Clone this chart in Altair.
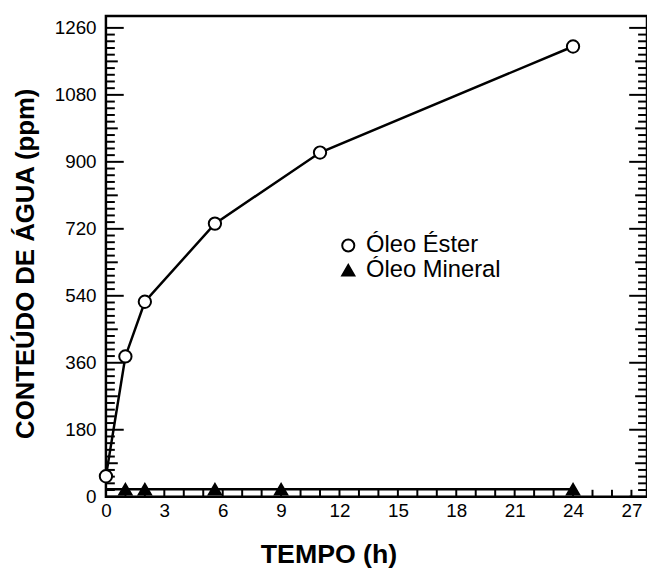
import altair as alt
import pandas as pd

# ---- data ----
tempo_ester = [0, 1, 2, 5.6, 11, 24]
agua_ester = [55, 377, 524, 734, 925, 1210]

tempo_mineral = [0, 1, 2, 5.6, 9, 24]
agua_mineral = [20, 20, 20, 20, 20, 20]
mineral_marker = [False, True, True, True, True, True]

series_names = ["Óleo Éster", "Óleo Mineral"]

x_labels = [0, 3, 6, 9, 12, 15, 18, 21, 24, 27]
y_labels = [0, 180, 360, 540, 720, 900, 1080, 1260]

y_minor = [v for v in range(0, 1261, 18) if v % 90 != 0]
y_medium = [v for v in range(0, 1261, 90) if v % 180 != 0]
y_major = list(range(0, 1261, 180))
x_minor = list(range(1, 28))

FONT = "Liberation Sans"
W, H = 547, 486

ester = pd.DataFrame({"t": tempo_ester, "a": agua_ester, "serie": series_names[0], "mk": True})
mineral = pd.DataFrame({"t": tempo_mineral, "a": agua_mineral, "serie": series_names[1], "mk": mineral_marker})
df = pd.concat([ester, mineral], ignore_index=True)

xscale = alt.Scale(domain=[0, 27.8], nice=False, zero=False)
yscale = alt.Scale(domain=[0, 1292], nice=False, zero=False)

xaxis = alt.Axis(values=x_labels, format="d", ticks=False, domain=False, grid=False,
                 labelFont=FONT, labelFontSize=19, labelColor="black", labelPadding=5,
                 title="TEMPO (h)", titleFont=FONT, titleFontSize=27, titleFontWeight="bold",
                 titleColor="black", titleX=225, titleY=59, titleBaseline="middle",
                 titleAlign="center", labelFlush=False)
yaxis = alt.Axis(values=y_labels, format="d", ticks=False, domain=False, grid=False,
                 labelFont=FONT, labelFontSize=19, labelColor="black", labelPadding=10,
                 title="CONTEÚDO DE ÁGUA (ppm)", titleFont=FONT, titleFontSize=26,
                 titleFontWeight="bold", titleColor="black", titleX=-81, titleY=250,
                 titleBaseline="middle", titleAlign="center", titleAngle=270, labelFlush=False)

legend = alt.Legend(title=None, orient="none", legendX=233, legendY=220,
                    labelFont=FONT, labelFontSize=24, labelColor="black", labelOffset=6,
                    symbolSize=150, symbolStrokeWidth=2, symbolStrokeColor="black",
                    rowPadding=1)

lines = alt.Chart(df).mark_line(color="black", strokeWidth=2.5).encode(
    x=alt.X("t:Q", scale=xscale, axis=xaxis),
    y=alt.Y("a:Q", scale=yscale, axis=yaxis),
    detail="serie:N",
    order="t:Q",
)

points = alt.Chart(df).transform_filter("datum.mk").mark_point(
    size=155, opacity=1, fillOpacity=1, filled=True
).encode(
    x=alt.X("t:Q", scale=xscale, axis=xaxis),
    y=alt.Y("a:Q", scale=yscale, axis=yaxis),
    shape=alt.Shape("serie:N", scale=alt.Scale(domain=series_names, range=["circle", "triangle-up"]), legend=legend),
    fill=alt.Fill("serie:N", scale=alt.Scale(domain=series_names, range=["white", "black"]), legend=legend),
    stroke=alt.Stroke("serie:N", scale=alt.Scale(domain=series_names, range=["black", "black"]), legend=legend),
    strokeWidth=alt.value(2),
)


def ytick_layer(values, length, right=False):
    d = pd.DataFrame({"v": values})
    if right:
        xe = dict(x=alt.value(W), x2=alt.value(W - length))
    else:
        xe = dict(x=alt.value(0), x2=alt.value(length))
    return alt.Chart(d).mark_rule(color="black", strokeWidth=2).encode(
        y=alt.Y("v:Q", scale=yscale, axis=yaxis), **xe
    )


xticks = alt.Chart(pd.DataFrame({"v": x_minor})).mark_rule(color="black", strokeWidth=2).encode(
    x=alt.X("v:Q", scale=xscale, axis=xaxis), y=alt.value(H), y2=alt.value(H - 7)
)

layers = [
    lines,
    ytick_layer(y_minor, 9), ytick_layer(y_medium, 12), ytick_layer(y_major, 18),
    ytick_layer(y_minor, 9, True), ytick_layer(y_medium, 12, True), ytick_layer(y_major, 18, True),
    xticks, points,
]

chart = alt.layer(*layers).properties(
    width=W, height=H,
    autosize=alt.AutoSizeParams(type="none"),
    padding={"left": 99, "top": 5, "right": 0, "bottom": 70},
    background="white",
).configure_view(stroke="black", strokeWidth=2.5)

chart.save("out.html", embed_options={"renderer": "svg", "actions": False})
